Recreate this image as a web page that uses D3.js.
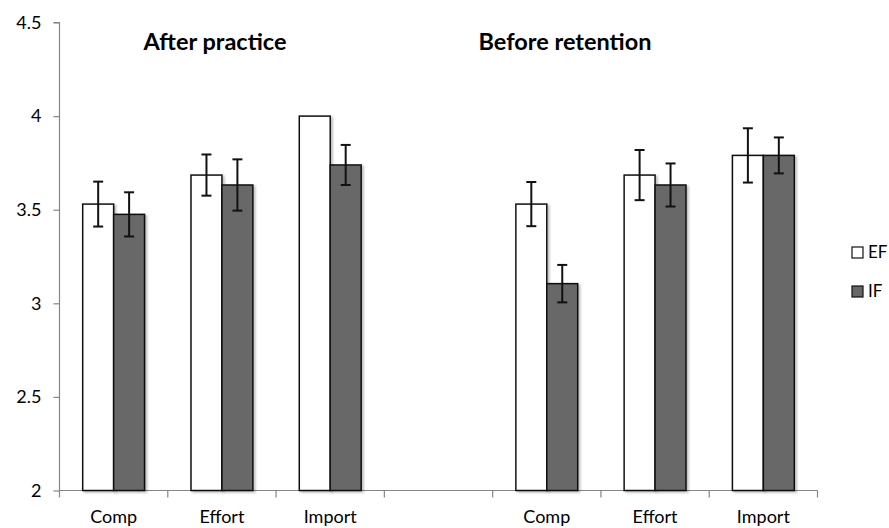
<!DOCTYPE html>
<html>
<head>
<meta charset="utf-8">
<script src="https://cdn.jsdelivr.net/npm/d3@7"></script>
<style>
  body { margin: 0; background: #fff; }
  text { font-family: Lato, "Open Sans", sans-serif; }
</style>
</head>
<body>
<div id="chart"></div>
<script>
// Data
const phases = ["After practice", "Before retention"];
const measures = ["Comp", "Effort", "Import"];
const series = ["EF", "IF"];

const efAfter = [3.53, 3.685, 4.0];
const ifAfter = [3.475, 3.632, 3.739];
const efBefore = [3.53, 3.685, 3.79];
const ifBefore = [3.105, 3.632, 3.79];

const efAfterErr = [0.12, 0.11, 0];
const ifAfterErr = [0.118, 0.137, 0.107];
const efBeforeErr = [0.118, 0.134, 0.145];
const ifBeforeErr = [0.1, 0.115, 0.096];

const yTicks = [2, 2.5, 3, 3.5, 4, 4.5];

// slots on the x axis: three measures, an empty slot, three measures
const slots = [
  ...measures.map(m => phases[0] + "|" + m),
  "gap",
  ...measures.map(m => phases[1] + "|" + m)
];

const rows = [];
measures.forEach((m, i) => {
  rows.push({slot: phases[0] + "|" + m, s: "EF", v: efAfter[i], e: efAfterErr[i]});
  rows.push({slot: phases[0] + "|" + m, s: "IF", v: ifAfter[i], e: ifAfterErr[i]});
  rows.push({slot: phases[1] + "|" + m, s: "EF", v: efBefore[i], e: efBeforeErr[i]});
  rows.push({slot: phases[1] + "|" + m, s: "IF", v: ifBefore[i], e: ifBeforeErr[i]});
});

const width = 889, height = 528;
const margin = {top: 22.5, right: 71.5, bottom: 37.5, left: 59.5};
const colors = {EF: "#ffffff", IF: "#676767"};

const svg = d3.select("#chart").append("svg")
  .attr("width", width)
  .attr("height", height);

// soft shadow like the spreadsheet bars
const defs = svg.append("defs");
defs.append("filter").attr("id", "shadow")
  .attr("x", "-20%").attr("y", "-5%").attr("width", "150%").attr("height", "120%")
  .append("feDropShadow")
  .attr("dx", 2).attr("dy", 1.5).attr("stdDeviation", 1.2)
  .attr("flood-color", "#000").attr("flood-opacity", 0.25);

const x = d3.scaleBand()
  .domain(slots)
  .range([margin.left, width - margin.right]);

// gap width 150% -> bars take 2 / 3.5 of the slot
const inner = x.bandwidth() * 0.75 / 3.5;
const xSeries = d3.scaleBand()
  .domain(series)
  .range([inner, x.bandwidth() - inner]);

const y = d3.scaleLinear()
  .domain([2, 4.5])
  .range([height - margin.bottom, margin.top]);

// Axes
const axisColor = "#868686";

const yAxis = svg.append("g")
  .attr("transform", `translate(${margin.left},0)`)
  .call(d3.axisLeft(y).tickValues(yTicks).tickSize(6).tickPadding(12)
    .tickFormat(d => d3.format("")(d)));
yAxis.select(".domain").attr("d", `M-6,${y(4.5)}H0V${y(2)}`);
yAxis.selectAll("path, line").attr("stroke", axisColor).attr("stroke-width", 1.2);
yAxis.selectAll("text").attr("fill", "#000")
  .style("font-size", "18px").style("font-family", "Lato, sans-serif");

// x-axis ticks at slot boundaries
const xAxisG = svg.append("g")
  .attr("transform", `translate(0,${y(2)})`);
xAxisG.append("line")
  .attr("x1", margin.left).attr("x2", width - margin.right)
  .attr("stroke", axisColor).attr("stroke-width", 1.2);
xAxisG.selectAll(".tk")
  .data(slots.map(s => x(s)).concat([x(slots[slots.length - 1]) + x.bandwidth()]))
  .enter().append("line")
  .attr("x1", d => d).attr("x2", d => d)
  .attr("y1", 0).attr("y2", 7)
  .attr("stroke", axisColor).attr("stroke-width", 1.2);
xAxisG.selectAll(".lbl")
  .data(slots.filter(s => s !== "gap"))
  .enter().append("text")
  .attr("x", d => x(d) + x.bandwidth() / 2)
  .attr("y", 32.5)
  .attr("text-anchor", "middle")
  .style("font-size", "18px")
  .text(d => d.split("|")[1]);

// Bars
svg.append("g").selectAll("rect")
  .data(rows)
  .enter().append("rect")
  .attr("x", d => x(d.slot) + xSeries(d.s))
  .attr("y", d => y(d.v))
  .attr("width", xSeries.bandwidth())
  .attr("height", d => y(2) - y(d.v))
  .attr("fill", d => colors[d.s])
  .attr("stroke", "#111")
  .attr("stroke-width", 1.5)
  .attr("filter", "url(#shadow)");

// Error bars
const errG = svg.append("g").selectAll("g")
  .data(rows.filter(d => d.e > 0))
  .enter().append("g")
  .attr("transform", d => `translate(${x(d.slot) + xSeries(d.s) + xSeries.bandwidth() / 2},0)`);
errG.append("line")
  .attr("y1", d => y(d.v + d.e)).attr("y2", d => y(d.v - d.e))
  .attr("stroke", "#111").attr("stroke-width", 2);
errG.append("line")
  .attr("x1", -5).attr("x2", 5)
  .attr("y1", d => y(d.v + d.e)).attr("y2", d => y(d.v + d.e))
  .attr("stroke", "#111").attr("stroke-width", 2);
errG.append("line")
  .attr("x1", -5).attr("x2", 5)
  .attr("y1", d => y(d.v - d.e)).attr("y2", d => y(d.v - d.e))
  .attr("stroke", "#111").attr("stroke-width", 2);

// Panel titles
svg.append("text")
  .attr("x", 215).attr("y", 50)
  .attr("text-anchor", "middle")
  .style("font-size", "23.5px").style("font-weight", "bold")
  .text(phases[0]);
svg.append("text")
  .attr("x", 565).attr("y", 50)
  .attr("text-anchor", "middle")
  .style("font-size", "23.5px").style("font-weight", "bold")
  .text(phases[1]);

// Legend
const legend = svg.append("g").selectAll("g")
  .data(series)
  .enter().append("g")
  .attr("transform", (d, i) => `translate(852,${247 + i * 39})`);
legend.append("rect")
  .attr("width", 11).attr("height", 11)
  .attr("fill", d => colors[d])
  .attr("stroke", "#111").attr("stroke-width", 1.2);
legend.append("text")
  .attr("x", 16).attr("y", 11)
  .style("font-size", "17px")
  .text(d => d);
</script>
</body>
</html>
